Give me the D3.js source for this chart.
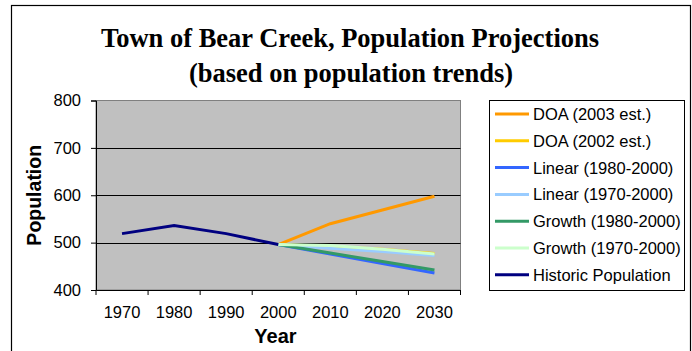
<!DOCTYPE html>
<html lang="en">
<head>
<meta charset="UTF-8">
<title>Town of Bear Creek, Population Projections</title>
<script src="https://d3js.org/d3.v7.min.js"></script>
<style>
  body { margin: 0; background: #fff; }
  text { font-family: "Liberation Sans", Arial, sans-serif; fill: #000; }
  .title { font-family: "Liberation Serif", "Times New Roman", serif; font-weight: bold; font-size: 26.5px; }
</style>
</head>
<body>
<svg id="chart"></svg>
<script>
// data
const years = ["1970", "1980", "1990", "2000", "2010", "2020", "2030"];
const yTicks = [400, 500, 600, 700, 800];

const historic   = [519, 536, 519, 496, null, null, null];
const doa2003    = [null, null, null, 496, 540, 569, 598];
const doa2002    = [null, null, null, 496, 492, 486, 477];
const linear8000 = [null, null, null, 496, 476, 456, 436];
const linear7000 = [null, null, null, 496, 488, 481, 473];
const growth8000 = [null, null, null, 496, 478, 460, 442];
const growth7000 = [null, null, null, 496, 494, 486, 476];

const seriesNames  = ["DOA (2003 est.)", "DOA (2002 est.)", "Linear (1980-2000)", "Linear (1970-2000)",
                      "Growth (1980-2000)", "Growth (1970-2000)", "Historic Population"];
const seriesValues = [doa2003, doa2002, linear8000, linear7000, growth8000, growth7000, historic];
const seriesColors = ["#FF9900", "#FFCC00", "#3366FF", "#99CCFF", "#339966", "#CCFFCC", "#000080"];

const width = 692, height = 351;
const plot = {left: 96, right: 460.5, top: 100.5, bottom: 290};

const svg = d3.select("#chart").attr("width", width).attr("height", height);

// outer frame
svg.append("rect")
   .attr("x", 11.5).attr("y", 5.5)
   .attr("width", 679).attr("height", 360)
   .attr("fill", "#fff").attr("stroke", "#000").attr("stroke-width", 1.2);

// title
svg.append("text").attr("class", "title")
   .attr("x", 350).attr("y", 47).attr("text-anchor", "middle")
   .text("Town of Bear Creek, Population Projections");
svg.append("text").attr("class", "title")
   .attr("x", 351).attr("y", 81.5).attr("text-anchor", "middle")
   .text("(based on population trends)");

const x = d3.scaleBand().domain(years).range([plot.left, plot.right]).padding(0);
const y = d3.scaleLinear().domain([400, 800]).range([plot.bottom, plot.top]);

// plot background
svg.append("rect")
   .attr("x", plot.left).attr("y", plot.top)
   .attr("width", plot.right - plot.left).attr("height", plot.bottom - plot.top)
   .attr("fill", "#C0C0C0").attr("stroke", "#808080").attr("stroke-width", 1);

// gridlines
svg.selectAll(".grid")
   .data(yTicks.filter(d => d > 400 && d < 800))
   .enter().append("line")
   .attr("x1", plot.left).attr("x2", plot.right)
   .attr("y1", d => Math.round(y(d)) + 0.5).attr("y2", d => Math.round(y(d)) + 0.5)
   .attr("stroke", "#000").attr("stroke-width", 1);

// y axis
const yAxis = svg.append("g")
   .attr("transform", `translate(${plot.left},0)`)
   .call(d3.axisLeft(y).tickValues(yTicks).tickSize(5).tickPadding(10));
yAxis.select(".domain").attr("stroke", "#000");
yAxis.selectAll("text").style("font-size", "16.5px");

// x axis: labels centred in bands, ticks on band edges
const xAxis = svg.append("g")
   .attr("transform", `translate(0,${plot.bottom})`)
   .call(d3.axisBottom(x).tickSize(0).tickPadding(16));
xAxis.select(".domain").attr("stroke", "#000");
xAxis.selectAll("text").style("font-size", "16.5px");
xAxis.selectAll(".edge")
   .data(years.map(d => x(d)).concat([x(years[years.length - 1]) + x.bandwidth()]))
   .enter().append("line")
   .attr("class", "edge")
   .attr("x1", d => d).attr("x2", d => d)
   .attr("y1", 0).attr("y2", 5)
   .attr("stroke", "#000");

// axis titles
svg.append("text")
   .attr("transform", `translate(41,${(plot.top + plot.bottom) / 2}) rotate(-90)`)
   .attr("text-anchor", "middle")
   .style("font-weight", "bold").style("font-size", "19.5px")
   .text("Population");
svg.append("text")
   .attr("x", 275.5).attr("y", 343)
   .attr("text-anchor", "middle")
   .style("font-weight", "bold").style("font-size", "20px")
   .text("Year");

// lines
const line = d3.line()
   .defined(d => d.v != null)
   .x(d => x(d.year) + x.bandwidth() / 2)
   .y(d => y(d.v));

seriesValues.forEach((vals, i) => {
  svg.append("path")
     .datum(years.map((yr, j) => ({year: yr, v: vals[j]})))
     .attr("fill", "none")
     .attr("stroke", seriesColors[i])
     .attr("stroke-width", 3)
     .attr("d", line);
});

// legend
const legend = {left: 489.5, top: 100.5, right: 684.5, bottom: 290.5, row: 26.8, first: 114};
svg.append("rect")
   .attr("x", legend.left).attr("y", legend.top)
   .attr("width", legend.right - legend.left).attr("height", legend.bottom - legend.top)
   .attr("fill", "#fff").attr("stroke", "#000");

const items = svg.selectAll(".legend-item")
   .data(seriesNames)
   .enter().append("g")
   .attr("class", "legend-item")
   .attr("transform", (d, i) => `translate(0,${legend.first + i * legend.row})`);
items.append("line")
   .attr("x1", 495).attr("x2", 529)
   .attr("stroke", (d, i) => seriesColors[i])
   .attr("stroke-width", 3);
items.append("text")
   .attr("x", 533).attr("dy", "0.36em")
   .style("font-size", "16.5px")
   .text(d => d);
</script>
</body>
</html>
